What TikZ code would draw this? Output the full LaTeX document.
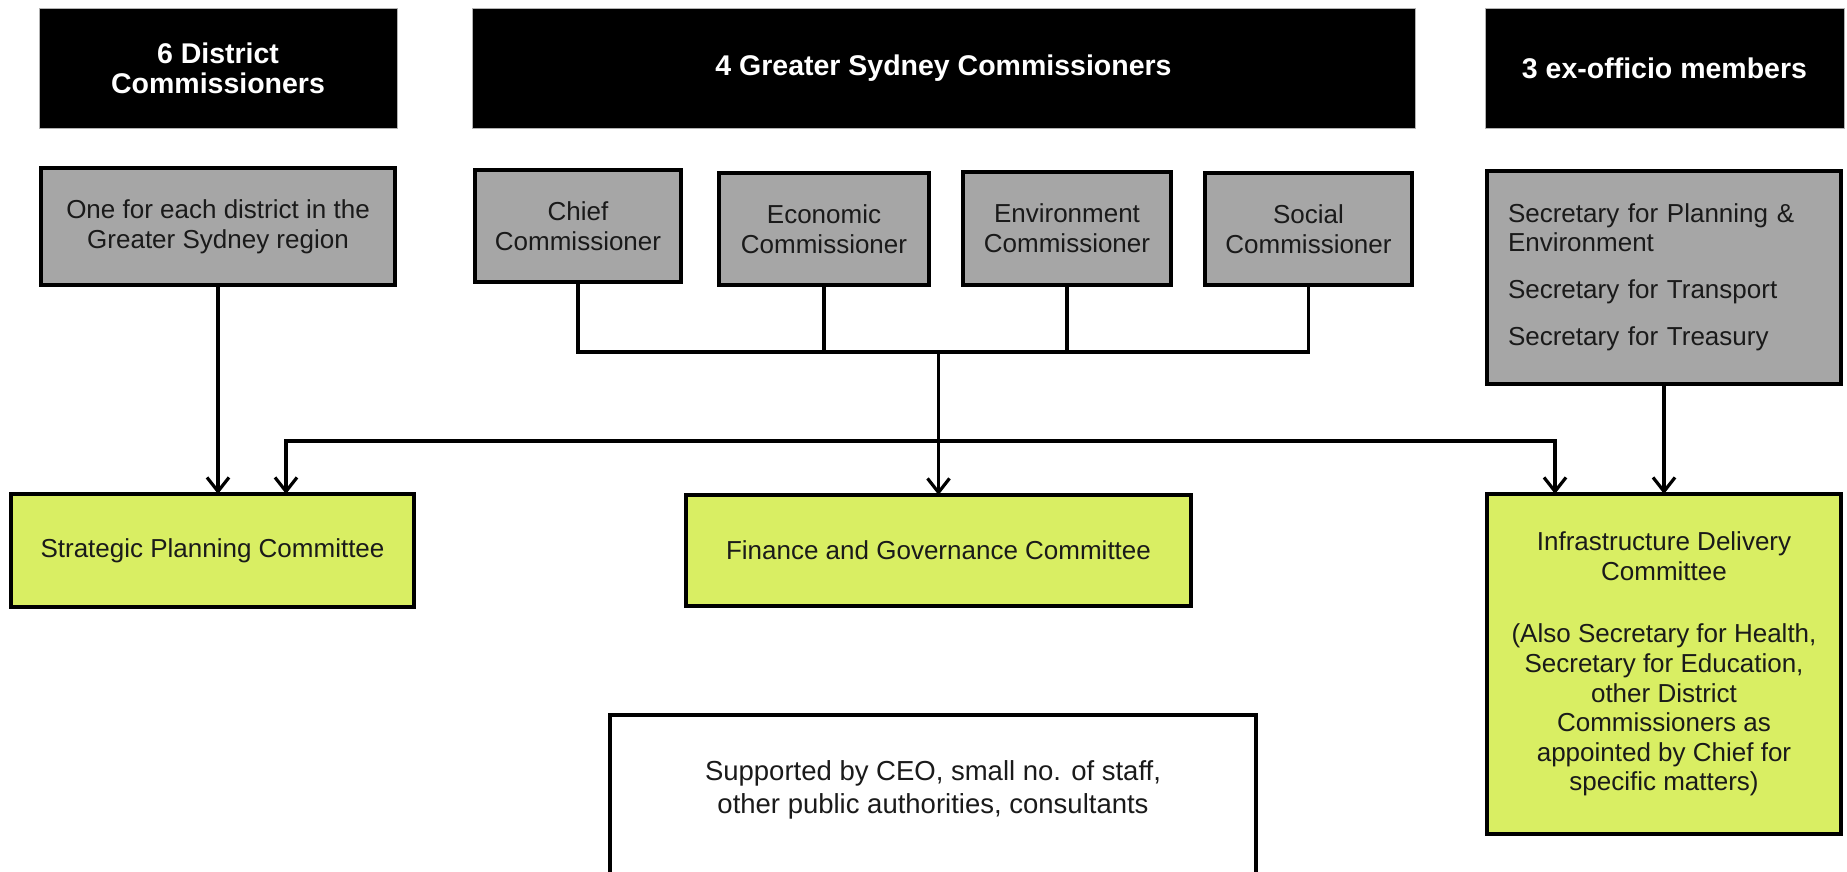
\documentclass[tikz,border=0pt]{standalone}
\usepackage{fontspec}
\setmainfont{Liberation Sans}
\usetikzlibrary{arrows.meta}
\definecolor{boxgray}{HTML}{A6A6A6}
\definecolor{comgreen}{HTML}{D9EE63}
\definecolor{inkdark}{HTML}{1A1A1A}
\begin{document}
\begin{tikzpicture}[x=1pt,y=-1pt,
  every node/.style={outer sep=0pt, inner sep=0pt},
  header/.style={fill=black, draw=gray!60, line width=0.8pt, text=white,
    font=\fontsize{28.5}{30}\selectfont\bfseries, align=center, minimum height=120},
  graybox/.style={draw=black, line width=4pt, fill=boxgray, text=inkdark,
    font=\fontsize{26}{29.6}\selectfont, align=center},
  greenbox/.style={draw=black, line width=4pt, fill=comgreen, text=inkdark,
    font=\fontsize{26}{29.6}\selectfont, align=center},
  whitebox/.style={draw=black, line width=4pt, fill=white},
  plaintext/.style={text=inkdark, font=\fontsize{27.5}{33}\selectfont, align=center},
  conn/.style={line width=3.2pt, black},
  arr/.style={conn, -{Straight Barb[length=14pt,width=22pt]}},
  dualarr/.style={conn, {Straight Barb[length=14pt,width=22pt]}-{Straight Barb[length=14pt,width=22pt]}}
]
\useasboundingbox (0,0) rectangle (1847,872);
\clip (0,0) rectangle (1847,872);
\fill[white] (0,0) rectangle (1847,872);

% headers
\node[header, minimum width=358] (h1) at (218,68) {6 District\\Commissioners};
\node[header, minimum width=943] (h2) at (943.5,68) {4 Greater Sydney Commissioners};
\node[header, minimum width=359] (h3) at (1664.5,68) {3 ex-officio members};

% gray boxes
\node[graybox, minimum width=354, minimum height=117] (dist) at (218,226.5) {One for each district in the\\Greater Sydney region};
\node[graybox, minimum width=206, minimum height=112] (chief) at (578,226) {Chief\\Commissioner};
\node[graybox, minimum width=210, minimum height=112] (econ) at (824,229) {Economic\\Commissioner};
\node[graybox, minimum width=208, minimum height=113] (env) at (1067,228.5) {Environment\\Commissioner};
\node[graybox, minimum width=207, minimum height=112] (soc) at (1308.5,229) {Social\\Commissioner};
\node[graybox, align=left, text width=312pt, inner xsep=21pt, minimum height=213,
      font=\fontsize{26}{29}\selectfont] (exo) at (1664,277.5)
  {Secretary for Planning \&\\Environment\\[18pt]Secretary for Transport\\[18pt]Secretary for Treasury};

% committees
\node[greenbox, minimum width=403, minimum height=113] (strat) at (212.5,550.5) {Strategic Planning Committee};
\node[greenbox, minimum width=505, minimum height=111] (fin) at (938.5,550.5) {Finance and Governance Committee};
\node[greenbox, minimum width=354, minimum height=340] (infra) at (1664,664)
  {Infrastructure Delivery\\Committee\\[33pt](Also Secretary for Health,\\Secretary for Education,\\other District\\Commissioners as\\appointed by Chief for\\specific matters)};

% support box (runs off the bottom edge)
\node[whitebox, minimum width=646, minimum height=200] (sup) at (933,815) {};
\node[plaintext] (suptext) at (933,789.5) {Supported by CEO, small no. of staff,\\other public authorities, consultants};

% connectors
\coordinate (bus) at (938.5,352);
\coordinate (hl) at (286,441);
\coordinate (hr) at (1555,441);
\draw[conn] (chief.south) |- (soc.south |- bus) -- (soc.south);
\draw[conn] (econ.south) -- (econ.south |- bus);
\draw[conn] (env.south) -- (env.south |- bus);
\draw[arr] (bus) -- (fin.north);
\draw[dualarr] (hl |- strat.north) -- (hl) -- (hr) -- (hr |- infra.north);
\draw[arr] (dist.south) -- (dist.south |- strat.north);
\draw[arr] (exo.south) -- (exo.south |- infra.north);
\end{tikzpicture}
\end{document}
